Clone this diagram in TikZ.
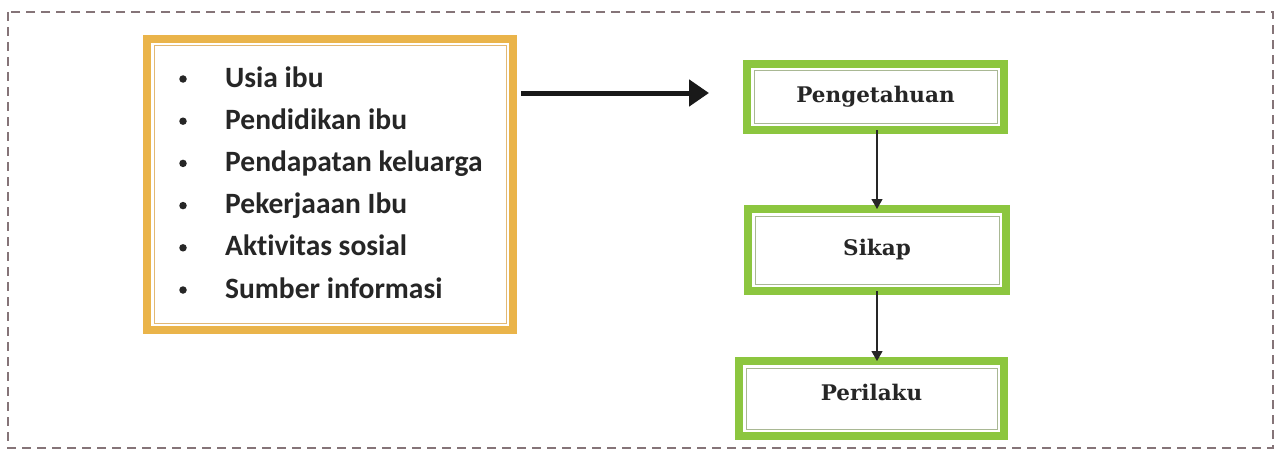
\documentclass[tikz,border=0pt]{standalone}
\usepackage{fontspec}
\setmainfont{Liberation Serif}
\newfontfamily\listfont[Ligatures={NoCommon}]{Carlito}
\newfontfamily\boxfont{DejaVu Serif}
\usetikzlibrary{arrows.meta}
\definecolor{frameC}{HTML}{857478}
\definecolor{orangeC}{HTML}{EAB44A}
\definecolor{orangeIn}{HTML}{E2B874}
\definecolor{greenC}{HTML}{8CC63F}
\definecolor{greenIn}{HTML}{A9B894}
\definecolor{textC}{HTML}{262626}
\tikzset{
  frame/.style={draw=frameC, line width=1.4pt, dash pattern=on 9pt off 6pt},
  listbox/.style={draw=orangeC, line width=8pt, fill=white, inner sep=0pt, outer sep=0pt},
  greenbox/.style={draw=greenC, line width=8pt, fill=white, inner sep=0pt, outer sep=0pt,
    font=\boxfont\bfseries\fontsize{21.5}{24}\selectfont, text=textC},
  innerO/.style={draw=orangeIn, line width=1pt},
  innerG/.style={draw=greenIn, line width=1pt},
  item/.style={anchor=base west, inner sep=0pt, text=textC, font=\listfont\bfseries\fontsize{29.5}{32}\selectfont},
  bul/.style={circle, fill=textC, minimum size=7.5pt, inner sep=0pt},
  bigarrow/.style={line width=5pt, draw=black!90, -{Triangle[length=20pt,width=26pt]}},
  smallarrow/.style={line width=1.2pt, draw=black!85, -{Triangle[length=10pt,width=11pt]}}
}
\begin{document}
\begin{tikzpicture}[x=1pt,y=-1pt]
\useasboundingbox (0,0) rectangle (1282,452);
\draw[frame] (8,12) rectangle (1273,448);
% list box
\node[listbox, minimum width=366pt, minimum height=291pt] (lst) at (330,184.5) {};
\draw[innerO] ([xshift=7pt,yshift=-7pt]lst.north west) rectangle ([xshift=-7pt,yshift=7pt]lst.south east);
\foreach \t [count=\i] in {Usia ibu,Pendidikan ibu,Pendapatan keluarga,Pekerjaaan Ibu,Aktivitas sosial,Sumber informasi}{
  \pgfmathsetmacro{\yb}{87+42.2*(\i-1)}
  \node[item] (it\i) at (225,\yb) {\t};
  \node[bul] (b\i) at (183,\yb-8) {};
}
% green boxes
\node[greenbox, minimum width=257pt, minimum height=66pt] (pen) at (875.5,97) {Pengetahuan};
\node[greenbox, minimum width=258pt, minimum height=82pt] (sik) at (877,250) {Sikap};
\node[greenbox, minimum width=265pt, minimum height=75pt, text depth=13pt] (per) at (871.5,398.5) {Perilaku};
\foreach \n in {pen,sik,per}{
  \draw[innerG] ([xshift=7pt,yshift=-7pt]\n.north west) rectangle ([xshift=-7pt,yshift=7pt]\n.south east);
}
% arrows
\draw[bigarrow] ([xshift=8pt]lst.east |- 0,93) -- ([xshift=-38pt]pen.west |- 0,93);
\draw[smallarrow] (pen.south -| 877,0) -- (sik.north -| 877,0);
\draw[smallarrow] (sik.south -| 877,0) -- (per.north -| 877,0);
\end{tikzpicture}
\end{document}
